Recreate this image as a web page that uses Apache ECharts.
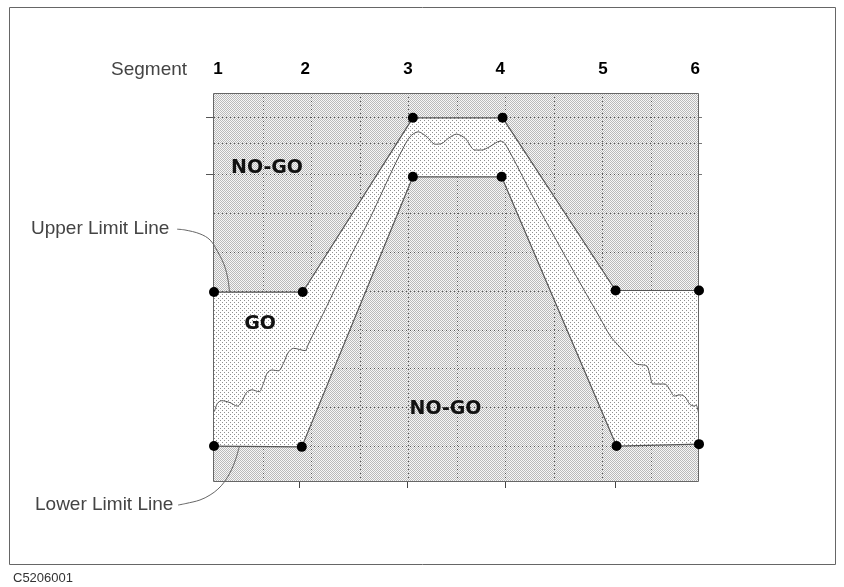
<!DOCTYPE html>
<html><head><meta charset="utf-8">
<script src="https://cdn.jsdelivr.net/npm/echarts@6/dist/echarts.min.js"></script>
<style>html,body{margin:0;padding:0;background:#fff}#c{width:844px;height:587px}</style>
</head><body><div id="c"></div>
<script>
// ---------- data (x: grid divisions across, y: grid divisions, lower limit level = 0)
var segmentLabels = ['1', '2', '3', '4', '5', '6'];
var segmentLabelX = [0.08, 1.88, 4.0, 5.9, 8.02, 9.92];
var segmentTickX = [1.76, 3.99, 6.0, 8.27];
var upperLimit = [[0, 3.97], [1.83, 3.97], [4.10, 8.46], [5.95, 8.46], [8.28, 4.01], [10, 4.01]];
var lowerLimit = [[0, 0], [1.81, -0.02], [4.10, 6.94], [5.93, 6.94], [8.30, 0], [10, 0.05]];
var response = [[0.01,0.89],[0.07,1.10],[0.16,1.17],[0.33,1.12],[0.48,1.03],[0.57,1.14],[0.67,1.38],[0.78,1.45],[0.93,1.40],[1.02,1.62],[1.10,1.89],[1.19,1.96],[1.33,1.94],[1.43,2.13],[1.53,2.41],[1.64,2.52],[1.88,2.46],[1.94,2.61],[2.12,3.08],[2.39,3.77],[2.80,4.85],[3.22,5.88],[3.63,6.99],[3.88,7.63],[4.04,7.97],[4.21,8.10],[4.39,7.97],[4.56,7.78],[4.70,7.80],[4.83,7.93],[5.00,8.04],[5.18,7.93],[5.38,7.63],[5.52,7.63],[5.69,7.72],[5.90,7.86],[6.00,7.80],[6.72,6.08],[7.55,4.20],[7.96,3.30],[8.17,2.84],[8.37,2.55],[8.54,2.32],[8.70,2.12],[8.85,2.09],[8.93,2.06],[8.99,1.83],[9.05,1.60],[9.20,1.60],[9.30,1.60],[9.40,1.45],[9.49,1.29],[9.61,1.32],[9.71,1.27],[9.81,1.08],[9.90,1.03],[9.94,1.06],[9.99,0.85]];
var hGrid = [0, 1, 2, 3, 4, 5, 6, 7, 7.81, 8.47];
var vGrid = [1, 2, 3, 4, 5, 6, 7, 8, 9];
var leftTicks = [8.47, 7.0];
var rightTicks = [8.47, 7.81, 7.0];
var upperLeader = [[-0.76,5.59],[-0.60,5.57],[-0.29,5.47],[-0.08,5.31],[0.08,5.00],[0.21,4.67],[0.29,4.28],[0.32,3.95]];
var lowerLeader = [[-0.74,-1.52],[-0.58,-1.48],[-0.29,-1.39],[-0.08,-1.26],[0.08,-1.11],[0.21,-0.93],[0.35,-0.64],[0.45,-0.33],[0.52,-0.02]];
var xRange = [0, 10];
var yRange = [-0.9, 9.1];

// ---------- patterns
function makePattern(size, bg, dots, dotColor) {
  var c = document.createElement('canvas');
  c.width = size; c.height = size;
  var g = c.getContext('2d');
  g.fillStyle = bg; g.fillRect(0, 0, size, size);
  g.fillStyle = dotColor;
  dots.forEach(function (d) { g.fillRect(d[0], d[1], 1, 1); });
  return { image: c, repeat: 'repeat' };
}
var darkFill = makePattern(2, '#f7f7f7', [[0, 0], [1, 1]], '#bababa');
var lightFill = makePattern(4, '#ffffff', [[0, 0], [2, 2]], '#909090');

var chart = echarts.init(document.getElementById('c'), null, { renderer: 'canvas' });
var LINE = '#555';
var crisp = function (v) { return Math.round(v) + 0.5; };
function leaderSeries(points) {
  return {
    type: 'custom', z: 9, silent: true, clip: false, data: [[0, 0]],
    renderItem: function (params, api) {
      var pts = points.map(function (p) { return api.coord(p); });
      return { type: 'polyline', shape: { points: pts, smooth: 0.35 }, style: { fill: 'none', stroke: '#666', lineWidth: 1 } };
    }
  };
}
var txt = function (t, x, y, font, fill, align, z) {
  return { type: 'text', x: x, y: y, z: z || 1, style: { text: t, fill: fill, font: font, align: align, verticalAlign: 'middle', textAlign: align, textVerticalAlign: 'middle' } };
};
var thin = '19px "Liberation Sans"';
var bold = 'bold 19px "DejaVu Sans"';

chart.setOption({
  animation: false,
  backgroundColor: '#fff',
  grid: { left: 214, top: 93, width: 485, height: 388, show: false },
  xAxis: [
    { type: 'value', min: xRange[0], max: xRange[1], position: 'bottom',
      axisLine: { show: false, onZero: false }, splitLine: { show: false }, axisLabel: { show: false },
      axisTick: { show: true, customValues: segmentTickX, length: 7, lineStyle: { color: '#444' } } },
    { type: 'value', min: xRange[0], max: xRange[1], position: 'top',
      axisLine: { show: false, onZero: false }, splitLine: { show: false }, axisTick: { show: false },
      axisLabel: { show: true, customValues: segmentLabelX, margin: 15,
        fontSize: 17, fontWeight: 'bold', color: '#000', fontFamily: 'Liberation Sans',
        formatter: function (v) {
          var best = 0;
          for (var i = 1; i < segmentLabelX.length; i++) {
            if (Math.abs(segmentLabelX[i] - v) < Math.abs(segmentLabelX[best] - v)) best = i;
          }
          return segmentLabels[best];
        } } }
  ],
  yAxis: [
    { type: 'value', min: yRange[0], max: yRange[1], position: 'left',
      axisLine: { show: false, onZero: false }, splitLine: { show: false }, axisLabel: { show: false },
      axisTick: { show: true, customValues: leftTicks, length: 8, lineStyle: { color: '#555' } } },
    { type: 'value', min: yRange[0], max: yRange[1], position: 'right',
      axisLine: { show: false, onZero: false }, splitLine: { show: false }, axisLabel: { show: false },
      axisTick: { show: true, customValues: rightTicks, length: 3, lineStyle: { color: '#777' } } }
  ],
  graphic: [
    { type: 'rect', shape: { x: 9.5, y: 7.5, width: 826, height: 557 }, style: { fill: 'none', stroke: '#666', lineWidth: 1 }, z: 0 },
    txt('Segment', 111, 70, thin, '#444', 'left'),
    txt('Upper Limit Line', 31, 229, thin, '#444', 'left'),
    txt('Lower Limit Line', 35, 505, thin, '#444', 'left'),
    txt('C5206001', 13, 578, '13px "Liberation Sans"', '#333', 'left'),
    txt('NO-GO', 267, 168.5, bold, '#111', 'center', 100),
    txt('NO-GO', 445.5, 409, bold, '#111', 'center', 100),
    txt('GO', 260, 324, bold, '#111', 'center', 100)
  ],
  series: [
    { // NO-GO background
      type: 'custom', z: 1, silent: true, data: [[0, 0]],
      renderItem: function (params, api) {
        var a = api.coord([xRange[0], yRange[1]]), b = api.coord([xRange[1], yRange[0]]);
        return { type: 'rect', shape: { x: a[0], y: a[1], width: b[0] - a[0], height: b[1] - a[1] }, style: { fill: darkFill } };
      }
    },
    { // dotted grid
      type: 'custom', z: 2, silent: true, data: [[0, 0]],
      renderItem: function (params, api) {
        var kids = [];
        hGrid.forEach(function (v) {
          var a = api.coord([xRange[0], v]), b = api.coord([xRange[1], v]);
          kids.push({ type: 'line', shape: { x1: a[0], y1: crisp(a[1]), x2: b[0], y2: crisp(b[1]) }, style: { stroke: '#555', lineWidth: 1, lineDash: [1, 3] } });
        });
        vGrid.forEach(function (v) {
          var a = api.coord([v, yRange[1]]), b = api.coord([v, yRange[0]]);
          kids.push({ type: 'line', shape: { x1: crisp(a[0]), y1: a[1], x2: crisp(b[0]), y2: b[1] }, style: { stroke: '#555', lineWidth: 1, lineDash: [1, 3] } });
        });
        return { type: 'group', children: kids };
      }
    },
    { // GO band between limit lines
      type: 'custom', z: 3, silent: true, data: [[0, 0]],
      renderItem: function (params, api) {
        var pts = [];
        upperLimit.forEach(function (p) { pts.push(api.coord(p)); });
        lowerLimit.slice().reverse().forEach(function (p) { pts.push(api.coord(p)); });
        return { type: 'polygon', shape: { points: pts }, style: { fill: lightFill } };
      }
    },
    { // plot border
      type: 'custom', z: 7, silent: true, data: [[0, 0]],
      renderItem: function (params, api) {
        var a = api.coord([xRange[0], yRange[1]]), b = api.coord([xRange[1], yRange[0]]);
        return { type: 'rect', shape: { x: crisp(a[0]) - 1, y: crisp(a[1]), width: Math.round(b[0] - a[0]), height: Math.round(b[1] - a[1]) }, style: { fill: 'none', stroke: '#666', lineWidth: 1 } };
      }
    },
    { name: 'Response', type: 'line', z: 5, data: response, smooth: 0.3, showSymbol: false, symbol: 'none',
      lineStyle: { color: LINE, width: 1 }, silent: true },
    { name: 'Upper Limit', type: 'line', z: 8, data: upperLimit, symbol: 'circle', symbolSize: 10, showAllSymbol: true,
      itemStyle: { color: '#000' }, lineStyle: { color: LINE, width: 1.2 }, silent: true, clip: false },
    { name: 'Lower Limit', type: 'line', z: 8, data: lowerLimit, symbol: 'circle', symbolSize: 10, showAllSymbol: true,
      itemStyle: { color: '#000' }, lineStyle: { color: LINE, width: 1.2 }, silent: true, clip: false },
    leaderSeries(upperLeader),
    leaderSeries(lowerLeader)
  ]
});
</script>
</body></html>
